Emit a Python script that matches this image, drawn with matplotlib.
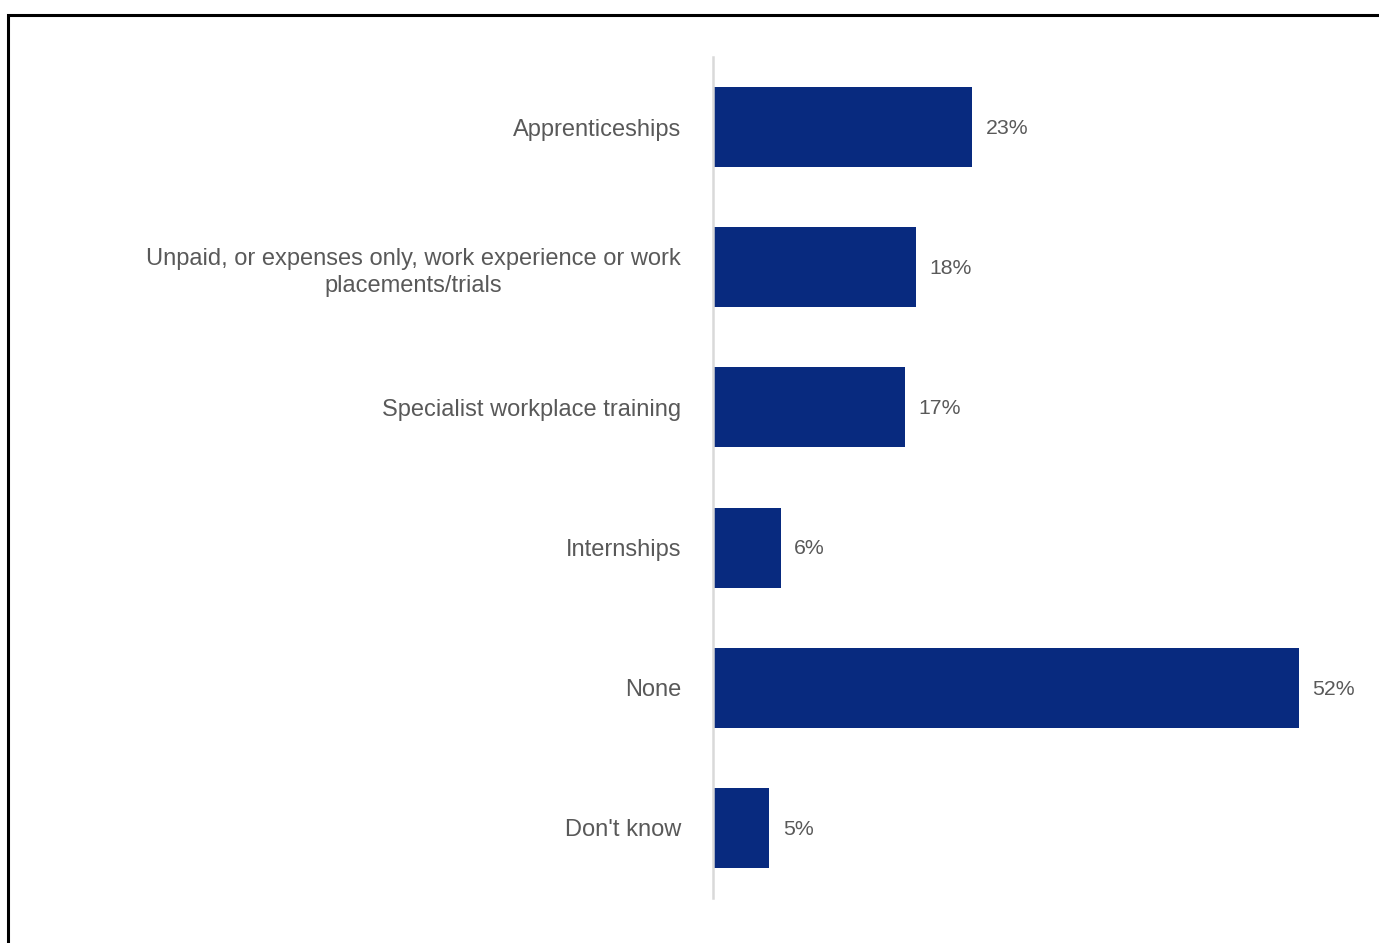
import matplotlib.pyplot as plt
from matplotlib.patches import Rectangle

plt.rcParams['font.family'] = ['Liberation Sans', 'DejaVu Sans']

# Share of employers offering each opportunity (%)
categories = [
    "Apprenticeships",
    "Unpaid, or expenses only, work experience or work\nplacements/trials",
    "Specialist workplace training",
    "Internships",
    "None",
    "Don't know",
]
values = [23, 18, 17, 6, 52, 5]

BAR_COLOR = "#082a7f"
TEXT_COLOR = "#595959"

W, H = 1379, 943
fig = plt.figure(figsize=(W / 100, H / 100), dpi=100)

# axes placed in pixel terms: zero line at x=713, plot spans y=57..898
left, right = 713 / W, 1370 / W
bottom, top = 45 / H, 886 / H
ax = fig.add_axes([left, bottom, right - left, top - bottom])

px_per_pct = 11.27
xmax = (1370 - 713) / px_per_pct

ypos = list(range(len(categories)))
ax.barh(ypos, values, height=0.57, color=BAR_COLOR, zorder=2)
ax.set_ylim(len(categories) - 0.5, -0.5)
ax.set_xlim(0, xmax)

ax.set_yticks(ypos)
ax.set_yticklabels(categories, fontsize=17, color=TEXT_COLOR,
                   multialignment="center", linespacing=1.3)
ax.tick_params(axis="y", length=0, pad=23)
ax.set_xticks([])

for s in ["top", "right", "bottom"]:
    ax.spines[s].set_visible(False)
ax.spines["left"].set_color("#d9d9d9")
ax.spines["left"].set_linewidth(1.8)

for y, v in zip(ypos, values):
    ax.text(v + 1.2, y + 0.01, f"{v}%", va="center", ha="left",
            fontsize=15.3, color=TEXT_COLOR)

# outer frame around the chart
fig.patches.append(Rectangle((8 / W, -0.1), 1.2, (H - 15) / H + 0.1,
                             transform=fig.transFigure, fill=False,
                             edgecolor="black", linewidth=2.2))

fig.savefig("out.png", dpi=100)
